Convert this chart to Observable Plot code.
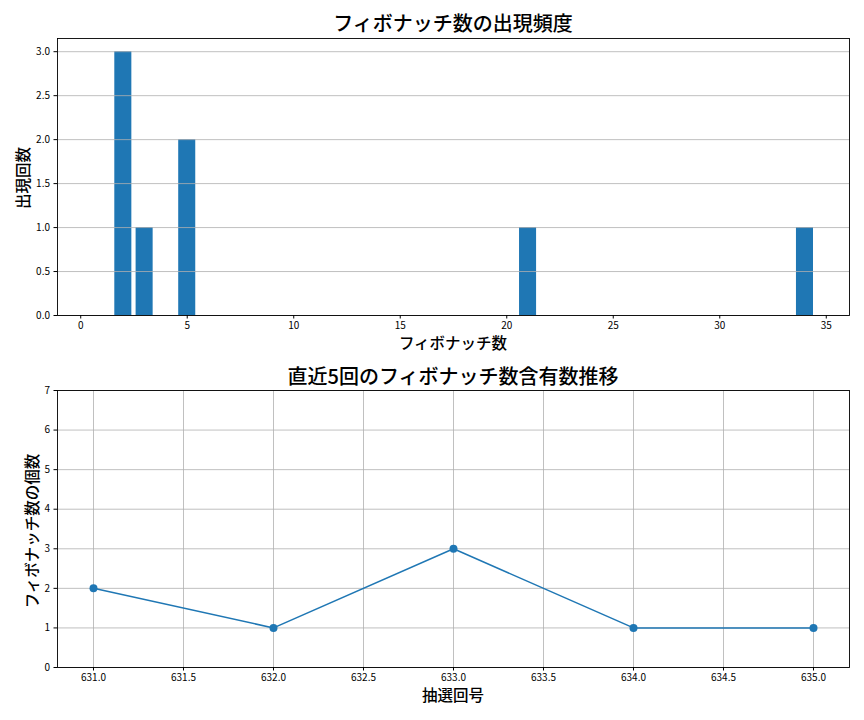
<!DOCTYPE html>
<html><head><meta charset="utf-8">
<script src="https://cdn.jsdelivr.net/npm/d3@7"></script>
<script src="https://cdn.jsdelivr.net/npm/@observablehq/plot@0.6"></script>
<style>
body{margin:0;background:#fff;}
#wrap{position:relative;width:864px;height:720px;background:#fff;font-family:"Noto Sans CJK JP","Noto Sans",sans-serif;}
.lbl{position:absolute;white-space:nowrap;transform:translate(-50%,-50%);color:#000;line-height:1;font-weight:500;}
.rot{transform:translate(-50%,-50%) rotate(-90deg);}
svg{display:block;}
</style></head>
<body><div id="wrap"></div>
<script>
// Top chart data
const fibNumbers = [1, 2, 3, 5, 8, 13, 21, 34];
const fibCounts  = [0, 3, 1, 2, 0, 0, 1, 1];
const topXTicks = [0, 5, 10, 15, 20, 25, 30, 35];
const topYTicks = [0, 0.5, 1.0, 1.5, 2.0, 2.5, 3.0];
// Bottom chart data
const drawNos = [631, 632, 633, 634, 635];
const fibPerDraw = [2, 1, 3, 1, 1];
const botXTicks = [631, 631.5, 632, 632.5, 633, 633.5, 634, 634.5, 635];
const botYTicks = [0, 1, 2, 3, 4, 5, 6, 7];
// Texts
const topTitle = "フィボナッチ数の出現頻度";
const topXLabel = "フィボナッチ数";
const topYLabel = "出現回数";
const botTitle = "直近5回のフィボナッチ数含有数推移";
const botXLabel = "抽選回号";
const botYLabel = "フィボナッチ数の個数";

const blue = "#1f77b4", grid = "#b0b0b0";
const barW = 0.8;
const topData = fibNumbers.map((n, i) => ({n, c: fibCounts[i]}));
const botData = drawNos.map((d, i) => ({d, v: fibPerDraw[i]}));

const pad = (lo, hi) => { const m = (hi - lo) * 0.05; return [lo - m, hi + m]; };
const xDomTop = pad(d3.min(fibNumbers) - barW / 2, d3.max(fibNumbers) + barW / 2);
const yDomTop = [0, d3.max(fibCounts) * 1.05];
const xDomBot = pad(d3.min(drawNos), d3.max(drawNos));

const style = {fontFamily: '"Noto Sans CJK JP","Noto Sans",sans-serif', fontSize: "10px", color: "#000", background: "transparent"};

const topChart = Plot.plot({
  width: 864, height: 360,
  marginTop: 38, marginBottom: 45, marginLeft: 57, marginRight: 15,
  style,
  x: {domain: xDomTop, label: null},
  y: {domain: yDomTop, label: null},
  marks: [
    Plot.rectY(topData, {x1: d => d.n - barW / 2, x2: d => d.n + barW / 2, y1: 0, y2: "c", fill: blue}),
    Plot.gridY(topYTicks, {stroke: grid, strokeOpacity: 1, strokeWidth: 0.8}),
    Plot.frame({stroke: "#000", strokeWidth: 0.9}),
    Plot.axisX(topXTicks, {tickSize: 3.5, tickPadding: 3, tickFormat: d => String(d)}),
    Plot.axisY(topYTicks, {tickSize: 3.5, tickPadding: 4, tickFormat: d3.format(".1f")})
  ]
});

const botChart = Plot.plot({
  width: 864, height: 360,
  marginTop: 30, marginBottom: 53, marginLeft: 57, marginRight: 15,
  style,
  x: {domain: xDomBot, label: null},
  y: {domain: [0, 7], label: null},
  marks: [
    Plot.gridX(botXTicks, {stroke: grid, strokeOpacity: 1, strokeWidth: 0.8}),
    Plot.gridY(botYTicks, {stroke: grid, strokeOpacity: 1, strokeWidth: 0.8}),
    Plot.line(botData, {x: "d", y: "v", stroke: blue, strokeWidth: 1.5}),
    Plot.dot(botData, {x: "d", y: "v", fill: blue, r: 4}),
    Plot.frame({stroke: "#000", strokeWidth: 0.9}),
    Plot.axisX(botXTicks, {tickSize: 3.5, tickPadding: 3, tickFormat: d3.format(".1f")}),
    Plot.axisY(botYTicks, {tickSize: 3.5, tickPadding: 4, tickFormat: d => String(d)})
  ]
});

const wrap = document.getElementById("wrap");
wrap.appendChild(topChart);
wrap.appendChild(botChart);

function label(text, x, y, size, rot) {
  const el = document.createElement("div");
  el.className = "lbl" + (rot ? " rot" : "");
  el.textContent = text;
  el.style.left = x + "px";
  el.style.top = y + "px";
  el.style.fontSize = size + "px";
  wrap.appendChild(el);
}
label(topTitle, 453, 23, 20);
label(topXLabel, 453, 343, 15.5);
label(topYLabel, 23, 178, 15.5, true);
label(botTitle, 453, 376, 20);
label(botXLabel, 453, 695, 15.5);
label(botYLabel, 32, 531, 15.5, true);
</script></body></html>
